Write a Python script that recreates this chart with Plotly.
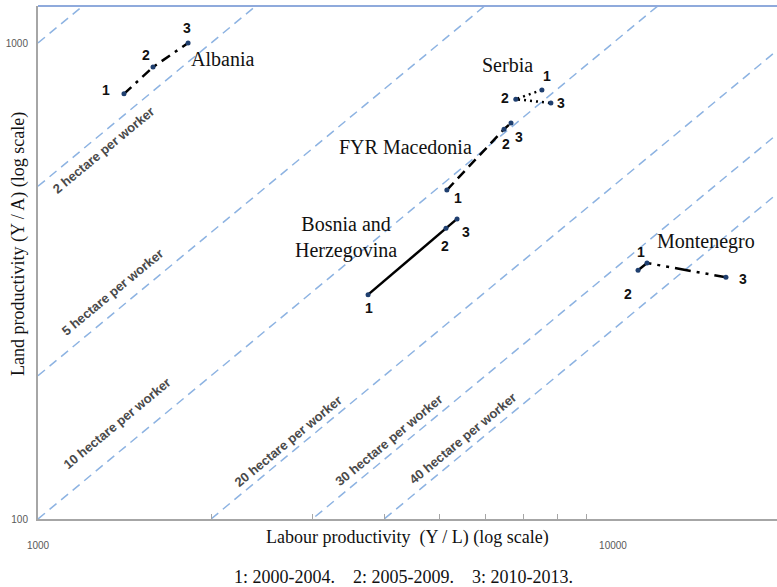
import numpy as np
import plotly.graph_objects as go

# labour productivity (Y / L) and land productivity (Y / A), periods 1, 2, 3
albania_labour = [1411, 1585, 1824]
albania_land = [782, 890, 1000]
serbia_labour = [7523, 6776, 7798]
serbia_land = [797, 762, 748]
macedonia_labour = [5141, 6463, 6647]
macedonia_land = [491, 659, 679]
bosnia_labour = [3750, 5123, 5355]
bosnia_land = [296, 408, 427]
montenegro_labour = [11458, 11055, 15720]
montenegro_land = [345, 333, 322]

period_labels = ["1", "2", "3"]
hectares = [1, 2, 5, 10, 20, 30, 40]
labelled_hectares = [2, 5, 10, 20, 30, 40]
footer = "1: 2000-2004.   2: 2005-2009.   3: 2010-2013."

X_RANGE = [3, 3 + 739 / 575]
Y_RANGE = [2, 2 + 513 / 476]
LINE_ANGLE = -np.degrees(np.arctan(476 / 575))

# country: (labour, land, drawing order, dash, label shifts, name placement)
countries = [
    ("Albania", albania_labour, albania_land, [0, 1, 2], "10px,6px,3px,6px",
     [(-18, 4), (-7, 12), (-1, 15)], (2, 1, -16, "left")),
    ("Serbia", serbia_labour, serbia_land, [0, 1, 2], "2px,4px",
     [(5, 14), (-11, 1), (10, 0)], (0, -34, 25, "center")),
    ("FYR Macedonia", macedonia_labour, macedonia_land, [0, 1, 2], "10px,6px",
     [(11, -8), (2, -15), (8, -14)], (0, -41, 43, "center")),
    ("Bosnia and<br>Herzegovina", bosnia_labour, bosnia_land, [0, 1, 2], "solid",
     [(1, -13), (-1, -18), (9, -13)], (1, -100, -9, "center")),
    ("Montenegro", montenegro_labour, montenegro_land, [1, 0, 2], "16px,6px,3px,6px,3px,6px",
     [(-6, 11), (-10, -24), (17, -2)], (0, 59, 22, "center")),
]

# (labour productivity at label centre, vertical shift in px)
hectare_label_pos = [(1298, -18), (1345, 22), (1372, 30), (2720, 14), (4074, 15), (5481, 15)]

fig = go.Figure()

line_x = np.array([1000, 30000])
for h in hectares:
    fig.add_trace(go.Scatter(
        x=line_x, y=line_x / h, mode="lines",
        line=dict(color="#8DB3E2", width=1.5, dash="9px,6px"),
        hoverinfo="skip", showlegend=False,
    ))

annotations = []
for h, (lx, shift) in zip(labelled_hectares, hectare_label_pos):
    annotations.append(dict(
        x=np.log10(lx), y=np.log10(lx / h), xref="x", yref="y",
        text=f"{h} hectare per worker", showarrow=False, textangle=LINE_ANGLE,
        yshift=shift, font=dict(family="Liberation Sans", size=13, color="#4a4a4a", weight="bold"),
    ))

for name, lab, land, order, dash, shifts, name_pos in countries:
    xs = [lab[i] for i in order]
    ys = [land[i] for i in order]
    fig.add_trace(go.Scatter(
        x=xs, y=ys, mode="lines",
        line=dict(color="black", width=2.5, dash=dash),
        hoverinfo="skip", showlegend=False,
    ))
    fig.add_trace(go.Scatter(
        x=lab, y=land, mode="markers",
        marker=dict(color="#1F3F6F", size=5),
        hoverinfo="skip", showlegend=False,
    ))
    for i, (dx, dy) in enumerate(shifts):
        annotations.append(dict(
            x=np.log10(lab[i]), y=np.log10(land[i]), xref="x", yref="y",
            text=period_labels[i], showarrow=False, xshift=dx, yshift=dy,
            font=dict(family="Liberation Sans", size=14, color="#111111", weight="bold"),
        ))
    idx, dx, dy, anchor = name_pos
    annotations.append(dict(
        x=np.log10(lab[idx]), y=np.log10(land[idx]), xref="x", yref="y",
        text=name, showarrow=False, xshift=dx, yshift=dy, xanchor=anchor,
        font=dict(family="Liberation Serif", size=20, color="#111111"),
    ))

serif = dict(family="Liberation Serif", size=18, color="#111111")
annotations += [
    dict(x=0.5, y=0, xref="paper", yref="paper", yshift=-18, showarrow=False,
         xanchor="center", yanchor="middle",
         text="Labour productivity  (Y / L) (log scale)", font=serif),
    dict(x=0, y=0.536, xref="paper", yref="paper", xshift=-20, showarrow=False,
         xanchor="center", yanchor="middle",
         textangle=-90, text="Land productivity (Y / A) (log scale)", font=serif),
    dict(x=0.494, y=0, xref="paper", yref="paper", yshift=-58, showarrow=False,
         xanchor="center", yanchor="middle",
         text=footer.replace("   ", "&nbsp;&nbsp;&nbsp;&nbsp;"), font=serif),
]

fig.update_layout(
    width=777, height=587,
    margin=dict(l=38, r=0, t=6, b=68),
    plot_bgcolor="white", paper_bgcolor="white",
    annotations=annotations,
    shapes=[dict(type="line", xref="paper", yref="paper", x0=0, x1=1, y0=1, y1=1,
                 line=dict(color="#8FAADC", width=2))],
)
fig.update_xaxes(
    type="log", range=X_RANGE, showgrid=False, zeroline=False,
    showline=True, linecolor="#A6A6A6", linewidth=2,
    tickmode="array", tickvals=[1000, 10000], ticktext=["1000", "10000"],
    ticks="", ticklabelstandoff=16,
    tickfont=dict(family="Liberation Sans", size=10, color="#595959"),
    minor=dict(tickmode="array", tickvals=[2000, 3000, 4000, 5000, 6000, 7000, 8000, 9000],
               ticks="inside", ticklen=5, tickcolor="#A6A6A6", showgrid=False),
)
fig.update_yaxes(
    type="log", range=Y_RANGE, showgrid=False, zeroline=False,
    showline=True, linecolor="#A6A6A6", linewidth=2,
    tickmode="array", tickvals=[100, 1000], ticktext=["100", "1000"],
    ticks="", ticklabelstandoff=6,
    tickfont=dict(family="Liberation Sans", size=10, color="#595959"),
)

fig.write_html("out.html", config={"displayModeBar": False},
               post_script="document.body.style.margin='0';")
